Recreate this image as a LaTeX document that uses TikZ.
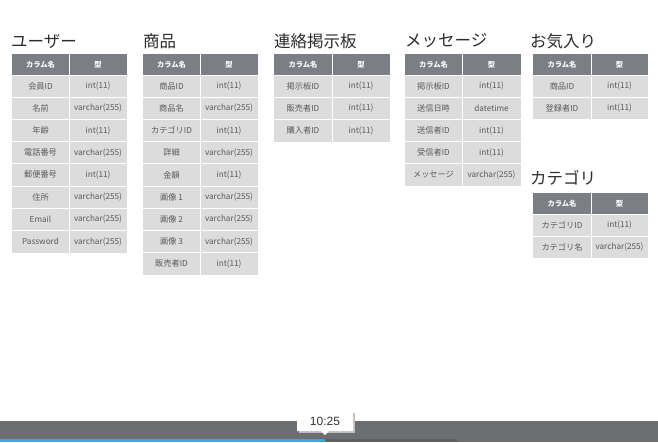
\documentclass[tikz,border=0pt]{standalone}
\usepackage{fontspec}
\setmainfont{Noto Sans CJK JP}
\newfontfamily\latinfont{Liberation Sans}
\definecolor{hdrcol}{RGB}{124,126,133}
\definecolor{cellcol}{RGB}{220,220,220}
\definecolor{celltext}{RGB}{90,90,90}
\definecolor{titlecol}{RGB}{45,45,45}
\definecolor{barcol}{RGB}{108,110,112}
\definecolor{bufcol}{RGB}{95,97,99}
\definecolor{progcol}{RGB}{58,168,220}
\tikzset{
  hdrtxt/.style={text=white, font=\fontsize{7.3}{8}\selectfont\bfseries, inner sep=0pt},
  celltxt/.style={text=celltext, font=\fontsize{8.2}{9}\selectfont, inner sep=0pt},
  titletxt/.style={text=titlecol, font=\fontsize{16.5}{18}\selectfont, anchor=west, inner sep=0pt},
  sep/.style={white, line width=0.8pt}
}
% #1 id, #2 left, #3 split, #4 right, #5 top, #6 rows
\newcommand{\dbtable}[6]{%
  \fill[hdrcol] (#2,#5) rectangle (#4,#5+21);
  \node[hdrtxt] (#1-h1) at ({(#2+#3)/2},{#5+10.5}) {カラム名};
  \node[hdrtxt] (#1-h2) at ({(#3+#4)/2},{#5+10.5}) {型};
  \foreach \a/\b [count=\i] in {#6} {
    \pgfmathsetmacro\ya{#5+21+(\i-1)*22.2}
    \fill[cellcol] (#2,\ya) rectangle (#4,\ya+22.2);
    \draw[sep] (#2,\ya) -- (#4,\ya);
    \node[celltxt] (#1-k\i) at ({(#2+#3)/2},{\ya+11.1}) {\a};
    \node[celltxt] (#1-v\i) at ({(#3+#4)/2},{\ya+11.1}) {\b};
    \draw[sep] (#3,\ya) -- (#3,\ya+22.2);
  }
  \draw[white, line width=0.5pt] (#3,#5) -- (#3,#5+21);
}
\begin{document}
\begin{tikzpicture}[x=1pt,y=-1pt]
\useasboundingbox (0,0) rectangle (658,442);
\fill[white] (0,0) rectangle (658,442);

\node[titletxt] (t1) at (11,41) {ユーザー};
\dbtable{u}{12}{69}{127}{54}{会員ID/int(11), 名前/varchar(255), 年齢/int(11), 電話番号/varchar(255), 郵便番号/int(11), 住所/varchar(255), Email/varchar(255), Password/varchar(255)}

\node[titletxt] (t2) at (143,41) {商品};
\dbtable{p}{143}{200}{258}{54}{商品ID/int(11), 商品名/varchar(255), カテゴリID/int(11), 詳細/varchar(255), 金額/int(11), 画像 1/varchar(255), 画像 2/varchar(255), 画像 3/varchar(255), 販売者ID/int(11)}

\node[titletxt] (t3) at (274,41) {連絡掲示板};
\dbtable{b}{274}{332}{390}{54}{掲示板ID/int(11), 販売者ID/int(11), 購入者ID/int(11)}

\node[titletxt] (t4) at (405,41) {メッセージ};
\dbtable{m}{405}{462}{521}{54}{掲示板ID/int(11), 送信日時/datetime, 送信者ID/int(11), 受信者ID/int(11), メッセージ/varchar(255)}

\node[titletxt] (t5) at (530,41) {お気入り};
\dbtable{f}{533}{591}{648}{54}{商品ID/int(11), 登録者ID/int(11)}

\node[titletxt] (t6) at (530,178) {カテゴリ};
\dbtable{c}{533}{591}{648}{193}{カテゴリID/int(11), カテゴリ名/varchar(255)}

% player bar
\fill[barcol] (0,421) rectangle (658,442);
\fill[bufcol] (325,439) rectangle (457,442);
\fill[progcol] (0,439) rectangle (325,442);
\fill[black!25] (299,413) rectangle (355,433);
\fill[white] (297,411) -- (353,411) -- (353,431) -- (329,431) -- (325,435) -- (321,431) -- (297,431) -- cycle;
\node[text=black!80, font=\latinfont\fontsize{12}{13}\selectfont, inner sep=0pt] (tip) at (325,421) {10:25};
\end{tikzpicture}
\end{document}
